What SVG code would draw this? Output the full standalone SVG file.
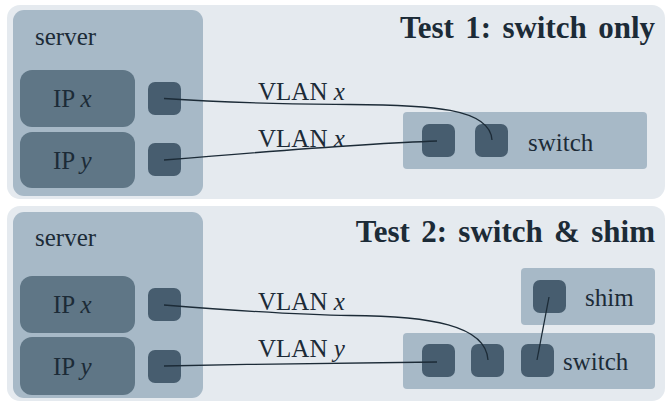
<svg xmlns="http://www.w3.org/2000/svg" width="667" height="405" viewBox="0 0 667 405">
<style>
.panel{fill:#e5eaef}
.box{fill:#a7b9c7}
.ip{fill:#5f7686}
.port{fill:#475d6f}
text{font-family:'Liberation Serif','Times New Roman',serif;fill:#1c2b37}
.lbl{font-size:25px}
.title{font-size:31px;font-weight:bold;text-anchor:end;word-spacing:3.6px}
.it{font-style:italic}
.wire{fill:none;stroke:#1c2b37;stroke-width:1.3}
</style>
<rect width="667" height="405" fill="#ffffff"/>
<g id="panel1">
<rect class="panel" x="7" y="5" width="658" height="194" rx="13"/>
<text class="title" x="655" y="38">Test 1: switch only</text>
</g>
<g id="server1">
<rect class="box" x="13" y="10" width="190" height="186" rx="11"/>
<text class="lbl" x="35" y="45">server</text>
</g>
<g id="ipx1">
<rect class="ip" x="20" y="70" width="115" height="57" rx="12"/>
<text class="lbl" x="53" y="107">IP <tspan class="it">x</tspan></text>
</g>
<g id="ipy1">
<rect class="ip" x="20" y="132" width="115" height="56" rx="12"/>
<text class="lbl" x="53" y="169">IP <tspan class="it">y</tspan></text>
</g>
<g id="portx1"><rect class="port" x="148" y="82" width="33" height="33" rx="7"/></g>
<g id="porty1"><rect class="port" x="148" y="143" width="33" height="33" rx="7"/></g>
<g id="switch1">
<rect class="box" x="403" y="112" width="244" height="57" rx="4"/>
<rect class="port" x="422" y="124" width="33" height="33" rx="7"/>
<rect class="port" x="475" y="124" width="33" height="33" rx="7"/>
<text class="lbl" x="528" y="151">switch</text>
</g>

<g id="panel2">
<rect class="panel" x="7" y="206" width="658" height="195" rx="13"/>
<text class="title" x="655" y="242">Test 2: switch &amp; shim</text>
</g>
<g id="server2">
<rect class="box" x="13" y="212" width="190" height="186" rx="11"/>
<text class="lbl" x="35" y="246">server</text>
</g>
<g id="ipx2">
<rect class="ip" x="20" y="276" width="115" height="57" rx="12"/>
<text class="lbl" x="53" y="313">IP <tspan class="it">x</tspan></text>
</g>
<g id="ipy2">
<rect class="ip" x="20" y="337" width="115" height="58" rx="12"/>
<text class="lbl" x="53" y="375">IP <tspan class="it">y</tspan></text>
</g>
<g id="portx2"><rect class="port" x="148" y="288" width="33" height="33" rx="7"/></g>
<g id="porty2"><rect class="port" x="148" y="350" width="33" height="33" rx="7"/></g>
<g id="shim">
<rect class="box" x="521" y="268" width="134" height="57" rx="4"/>
<rect class="port" x="533" y="280" width="33" height="33" rx="7"/>
<text class="lbl" x="585" y="306">shim</text>
</g>
<g id="switch2">
<rect class="box" x="403" y="333" width="252" height="56" rx="4"/>
<rect class="port" x="422" y="344" width="33" height="33" rx="7"/>
<rect class="port" x="471" y="344" width="33" height="33" rx="7"/>
<rect class="port" x="521" y="344" width="33" height="33" rx="7"/>
<text class="lbl" x="563" y="370">switch</text>
</g>

<g id="connectors">
<path class="wire" d="M164,98.5 C240,104 300,104 350,104.5 C430,105 490,108 492,140"/>
<path class="wire" d="M164,160 C260,152 380,143 437,141"/>
<path class="wire" d="M164,305 C240,311 300,315 350,315.5 C430,316 486,325 488,360"/>
<path class="wire" d="M164,366 C260,364 380,362 437,362"/>
<path class="wire" d="M549,297 L537,360"/>
</g>
<g id="labels">
<text class="lbl" x="258" y="100">VLAN <tspan class="it">x</tspan></text>
<text class="lbl" x="258" y="147">VLAN <tspan class="it">x</tspan></text>
<text class="lbl" x="258" y="310">VLAN <tspan class="it">x</tspan></text>
<text class="lbl" x="258" y="357">VLAN <tspan class="it">y</tspan></text>
</g>
</svg>
